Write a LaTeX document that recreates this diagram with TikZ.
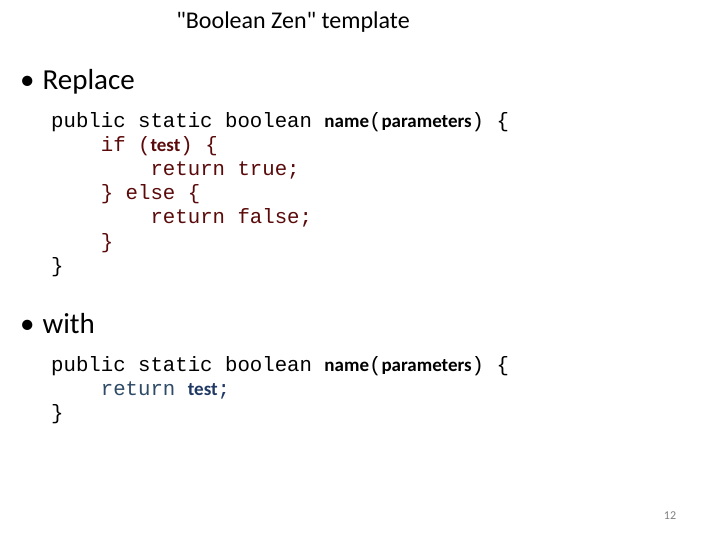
\documentclass[tikz,border=0pt]{standalone}
\usepackage{fontspec}
\setmainfont{Carlito}
\newfontfamily\plainfont{Carlito}
\setmonofont{Liberation Mono}
\definecolor{dred}{HTML}{5A0A0A}
\definecolor{dblue}{HTML}{1F3864}
\definecolor{slate}{HTML}{2E4A66}
\begin{document}
\begin{tikzpicture}[x=1pt,y=-1pt,
  code/.style={anchor=base west,inner sep=0pt,font=\fontsize{20.7}{24}\ttfamily},
  bul/.style={anchor=base west,inner sep=0pt,font=\fontsize{29}{34}\selectfont}]
\useasboundingbox[fill=white] (0,0) rectangle (720,540);
\newcommand\nm[1]{{\rmfamily\bfseries\fontsize{19}{24}\selectfont #1}}
\node[anchor=base,inner sep=0pt,font=\plainfont\fontsize{24}{28}\selectfont] (title) at (293,29) {"Boolean Zen" template};
\node[bul] (b1) at (20,90) {\textbullet\hspace{8pt}Replace};
\node[code] (l1) at (51,128) {public static boolean \nm{name}(\nm{parameters}) \{};
\node[code,text=dred] (l2) at (51,152) {\ \ \ \ if (\nm{test}) \{};
\node[code,text=dred] (l3) at (51,176) {\ \ \ \ \ \ \ \ return true;};
\node[code,text=dred] (l4) at (51,200) {\ \ \ \ \} else \{};
\node[code,text=dred] (l5) at (51,224) {\ \ \ \ \ \ \ \ return false;};
\node[code,text=dred] (l6) at (51,248) {\ \ \ \ \}};
\node[code] (l7) at (51,272) {\}};
\node[bul] (b2) at (20,333) {\textbullet\hspace{8pt}with};
\node[code] (m1) at (51,371) {public static boolean \nm{name}(\nm{parameters}) \{};
\node[code,text=slate] (m2) at (51,395) {\ \ \ \ return {\color{dblue}\nm{test};}};
\node[code] (m3) at (51,419) {\}};
\node[anchor=base,inner sep=0pt,font=\fontsize{12}{14}\selectfont,text=gray] (pg) at (670,519) {12};
\end{tikzpicture}
\end{document}
